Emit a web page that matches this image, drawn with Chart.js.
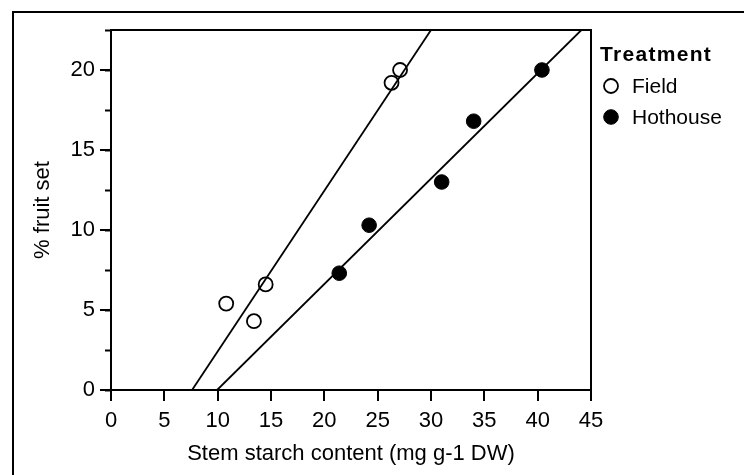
<!DOCTYPE html>
<html>
<head>
<meta charset="utf-8">
<title>Fruit set vs stem starch</title>
<script src="https://cdn.jsdelivr.net/npm/chart.js@4.4.1/dist/chart.umd.min.js"></script>
<style>
  html, body { margin: 0; padding: 0; background: #fff; }
  #wrap { position: relative; width: 744px; height: 475px; overflow: hidden; }
  #frame {
    position: absolute; left: 12px; top: 11px; width: 800px; height: 600px;
    border-left: 2px solid #000; border-top: 2px solid #000;
  }
  #chart { position: absolute; left: 0; top: 0; }
</style>
</head>
<body>
<div id="wrap">
  <div id="frame"></div>
  <canvas id="chart" width="744" height="475"></canvas>
</div>
<script>
// measurements
const fieldStarch = [10.8, 13.4, 14.5, 26.3, 27.1];
const fieldFruitSet = [5.4, 4.3, 6.6, 19.2, 20.0];
const hothouseStarch = [21.4, 24.2, 31.0, 34.0, 40.4];
const hothouseFruitSet = [7.3, 10.3, 13.0, 16.8, 20.0];

// fitted lines, start and end points
const fieldFitX = [7.6, 30.0];
const fieldFitY = [0, 22.5];
const hothouseFitX = [9.95, 44.1];
const hothouseFitY = [0, 22.5];

// axis ticks
const xTicks = [0, 5, 10, 15, 20, 25, 30, 35, 40, 45];
const yTicks = [0, 5, 10, 15, 20];
const yMinorTicks = [0, 2.5, 5, 7.5, 10, 12.5, 15, 17.5, 20, 22.5];

const toPoints = (xs, ys) => xs.map((x, i) => ({ x: x, y: ys[i] }));

const FONT = "'Liberation Sans', Arial, Helvetica, sans-serif";
Chart.defaults.font.family = FONT;
Chart.defaults.font.size = 22;
Chart.defaults.color = '#000';

// legend drawn to the right of the plot box, "Treatment" heading + one row per scatter set
const treatmentLegend = {
  id: 'treatmentLegend',
  afterDraw(chart, args, opts) {
    const ctx = chart.ctx;
    const left = chart.chartArea.right;
    ctx.save();
    ctx.fillStyle = '#000';
    ctx.textBaseline = 'alphabetic';
    ctx.textAlign = 'left';
    ctx.font = 'bold 21px ' + FONT;
    ctx.letterSpacing = opts.titleSpacing + 'px';
    ctx.fillText(opts.title, left + opts.titleX, opts.titleBaseline);
    ctx.letterSpacing = '0px';
    ctx.font = '21px ' + FONT;

    const sets = chart.data.datasets.filter(ds => ds.type === 'scatter');
    sets.forEach((ds, i) => {
      const cy = opts.firstRowY + i * opts.rowGap;
      ctx.fillStyle = ds.pointBackgroundColor;
      ctx.strokeStyle = ds.pointBorderColor;
      ctx.lineWidth = ds.pointBorderWidth;
      Chart.helpers.drawPoint(ctx, {
        pointStyle: 'circle',
        radius: ds.pointRadius,
        borderWidth: ds.pointBorderWidth,
        rotation: 0
      }, left + opts.markerX, cy);
      ctx.fillStyle = '#000';
      ctx.fillText(ds.label, left + opts.textX, cy + 7);
    });
    ctx.restore();
  }
};

const fitLine = (xs, ys) => ({
  type: 'line',
  data: toPoints(xs, ys),
  borderColor: '#000',
  borderWidth: 1.8,
  pointRadius: 0,
  fill: false,
  tension: 0
});

const setTicks = values => scale => {
  scale.ticks = values.map(v => ({ value: v }));
};

new Chart(document.getElementById('chart'), {
  data: {
    datasets: [
      fitLine(fieldFitX, fieldFitY),
      fitLine(hothouseFitX, hothouseFitY),
      {
        type: 'scatter',
        label: 'Field',
        data: toPoints(fieldStarch, fieldFruitSet),
        pointRadius: 7,
        pointBorderWidth: 1.8,
        pointBorderColor: '#000',
        pointBackgroundColor: 'rgba(0,0,0,0)'
      },
      {
        type: 'scatter',
        label: 'Hothouse',
        data: toPoints(hothouseStarch, hothouseFruitSet),
        pointRadius: 7.3,
        pointBorderWidth: 1,
        pointBorderColor: '#000',
        pointBackgroundColor: '#000'
      }
    ]
  },
  options: {
    responsive: false,
    animation: false,
    devicePixelRatio: 1,
    layout: { padding: { left: 0, right: 153, top: 30, bottom: 0 } },
    plugins: {
      legend: { display: false },
      tooltip: { enabled: false },
      treatmentLegend: {
        title: 'Treatment',
        titleSpacing: 1.3,
        titleX: 9,
        titleBaseline: 61,
        markerX: 20,
        textX: 41,
        firstRowY: 86,
        rowGap: 31
      }
    },
    scales: {
      x: {
        type: 'linear',
        position: 'bottom',
        min: 0,
        max: 45,
        afterBuildTicks: setTicks(xTicks),
        afterFit: s => { s.height = 85; },
        grid: { drawOnChartArea: false, tickLength: 11, tickWidth: 2, tickColor: '#000', lineWidth: 2 },
        border: { color: '#000', width: 2 },
        ticks: { padding: 7, maxRotation: 0, autoSkip: false },
        title: { display: true, text: 'Stem starch content (mg g-1 DW)', padding: { top: 0, bottom: 8 } }
      },
      y: {
        type: 'linear',
        position: 'left',
        weight: 1,
        min: 0,
        max: 22.5,
        afterBuildTicks: setTicks(yTicks),
        afterFit: s => { s.width = 111; },
        grid: { drawOnChartArea: false, tickLength: 11, tickWidth: 2, tickColor: '#000', lineWidth: 2 },
        border: { color: '#000', width: 2 },
        ticks: { padding: 5, autoSkip: false },
        title: { display: true, text: '% fruit set', padding: { top: 30, bottom: 0 } }
      },
      yMinor: {
        type: 'linear',
        position: 'left',
        weight: 0,
        min: 0,
        max: 22.5,
        display: true,
        afterBuildTicks: setTicks(yMinorTicks),
        afterFit: s => { s.width = 0; },
        grid: { drawOnChartArea: false, tickLength: 6, tickWidth: 2, tickColor: '#000' },
        border: { display: false },
        ticks: { display: false }
      },
      xTop: {
        type: 'linear',
        position: 'top',
        min: 0,
        max: 45,
        display: true,
        afterFit: s => { s.height = 0; },
        grid: { display: false, drawTicks: false },
        border: { color: '#000', width: 2 },
        ticks: { display: false }
      },
      yRight: {
        type: 'linear',
        position: 'right',
        min: 0,
        max: 22.5,
        display: true,
        afterFit: s => { s.width = 0; },
        grid: { display: false, drawTicks: false },
        border: { color: '#000', width: 2 },
        ticks: { display: false }
      }
    }
  },
  plugins: [treatmentLegend]
});
</script>
</body>
</html>
